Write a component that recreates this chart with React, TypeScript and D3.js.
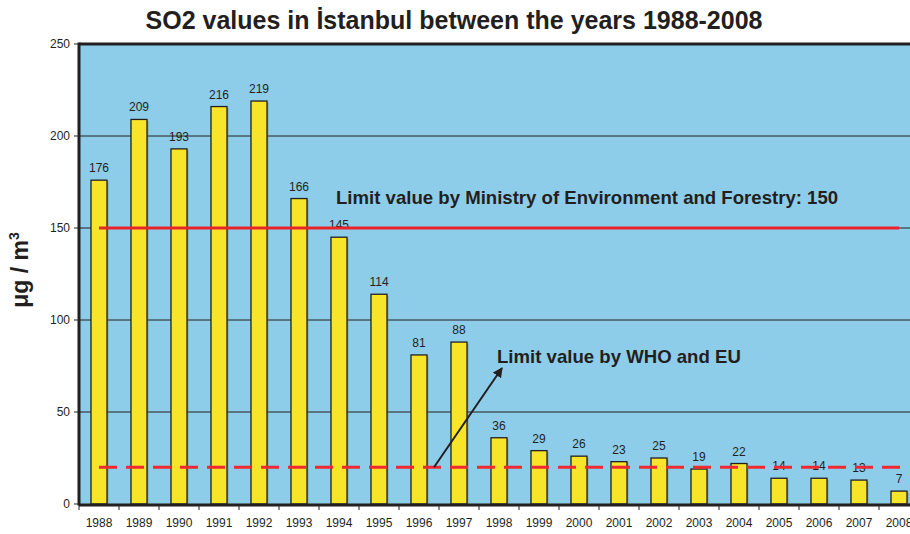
import React from "react";
import * as d3 from "d3";

const years = ["1988","1989","1990","1991","1992","1993","1994","1995","1996","1997","1998","1999","2000","2001","2002","2003","2004","2005","2006","2007","2008"];
const so2 = [176,209,193,216,219,166,145,114,81,88,36,29,26,23,25,19,22,14,14,13,7];
const yTicks = [0,50,100,150,200,250];
const ministryLimit = 150;
const whoLimit = 20;

const W = 910, H = 534;
const left = 79, top = 44, bottom = 504;
const bandW = 40;
const right = left + bandW * years.length;

export default function App() {
  const x = d3.scaleBand<string>().domain(years).range([left, right]).paddingInner(0.6).paddingOuter(0.3);
  const xb = d3.scaleBand<string>().domain(years).range([left, right]);
  const y = d3.scaleLinear().domain([0, 250]).range([bottom, top]);
  const font = "Liberation Sans, Arial, sans-serif";
  const cx = (yr: string) => (xb(yr) as number) + xb.bandwidth() / 2;
  const x1 = cx(years[0]);
  const x2 = cx(years[years.length - 1]);
  return (
    <svg width={W} height={H} style={{ position: "absolute", left: 0, top: 0 }} fontFamily={font}>
      <defs>
        <marker id="ah" viewBox="0 0 10 10" refX="9" refY="5" markerWidth="5" markerHeight="5" orient="auto">
          <path d="M0,0 L10,5 L0,10 z" fill="#231f20" />
        </marker>
      </defs>
      <rect x={0} y={0} width={W} height={H} fill="#fff" />
      <text x={454} y={29} textAnchor="middle" fontSize={25} fontWeight="bold" fill="#231f20">SO2 values in İstanbul between the years 1988-2008</text>
      <rect x={left} y={top} width={right - left} height={bottom - top} fill="#8ecdea" />
      {yTicks.filter(t => t > 0 && t < 250).map(t => (
        <line key={t} x1={left} x2={right} y1={y(t)} y2={y(t)} stroke="#231f20" strokeWidth={1} />
      ))}
      {years.map((yr, i) => (
        <g key={yr}>
          <rect x={(x(yr) as number) + 1.5} y={y(so2[i]) + 1.5} width={x.bandwidth()} height={bottom - y(so2[i])} fill="#5a7f90" opacity={0.5} />
          <rect x={x(yr)} y={y(so2[i])} width={x.bandwidth()} height={bottom - y(so2[i])} fill="#f8e52a" stroke="#231f20" strokeWidth={1.3} />
          <text x={cx(yr)} y={y(so2[i]) - 8} textAnchor="middle" fontSize={12} fill="#231f20">{so2[i]}</text>
          <text x={cx(yr)} y={527} textAnchor="middle" fontSize={12} fill="#231f20">{yr}</text>
        </g>
      ))}
      <line x1={x1} x2={x2} y1={y(ministryLimit)} y2={y(ministryLimit)} stroke="#e8242b" strokeWidth={3} />
      <line x1={x1} x2={x2 + 6} y1={y(whoLimit)} y2={y(whoLimit)} stroke="#ee2a30" strokeWidth={3} strokeDasharray="18 9" />
      <line x1={434} y1={y(whoLimit)} x2={502} y2={368} stroke="#231f20" strokeWidth={2} markerEnd="url(#ah)" />
      <text x={336} y={204} fontSize={18.6} fontWeight="bold" fill="#231f20">Limit value by Ministry of Environment and Forestry: 150</text>
      <text x={497} y={363} fontSize={18.6} fontWeight="bold" fill="#231f20">Limit value by WHO and EU</text>
      <line x1={left} x2={right} y1={top} y2={top} stroke="#231f20" strokeWidth={3} />
      <line x1={left} x2={left} y1={top - 1.5} y2={bottom + 1.5} stroke="#231f20" strokeWidth={3} />
      <line x1={left} x2={right} y1={bottom + 1} y2={bottom + 1} stroke="#231f20" strokeWidth={3} />
      {yTicks.map(t => (
        <g key={t}>
          <line x1={left - 5} x2={left} y1={y(t)} y2={y(t)} stroke="#231f20" strokeWidth={1} />
          <text x={70} y={y(t) + 4} textAnchor="end" fontSize={12} fill="#231f20">{t}</text>
        </g>
      ))}
      {years.map(yr => (
        <line key={yr} x1={xb(yr)} x2={xb(yr)} y1={bottom} y2={bottom + 6} stroke="#231f20" strokeWidth={1} />
      ))}
      <text transform={`translate(28,270) rotate(-90)`} textAnchor="middle" fontSize={23} fontWeight="bold" fill="#231f20">
        μg / m<tspan dy={-9} fontSize={14}>3</tspan>
      </text>
    </svg>
  );
}
